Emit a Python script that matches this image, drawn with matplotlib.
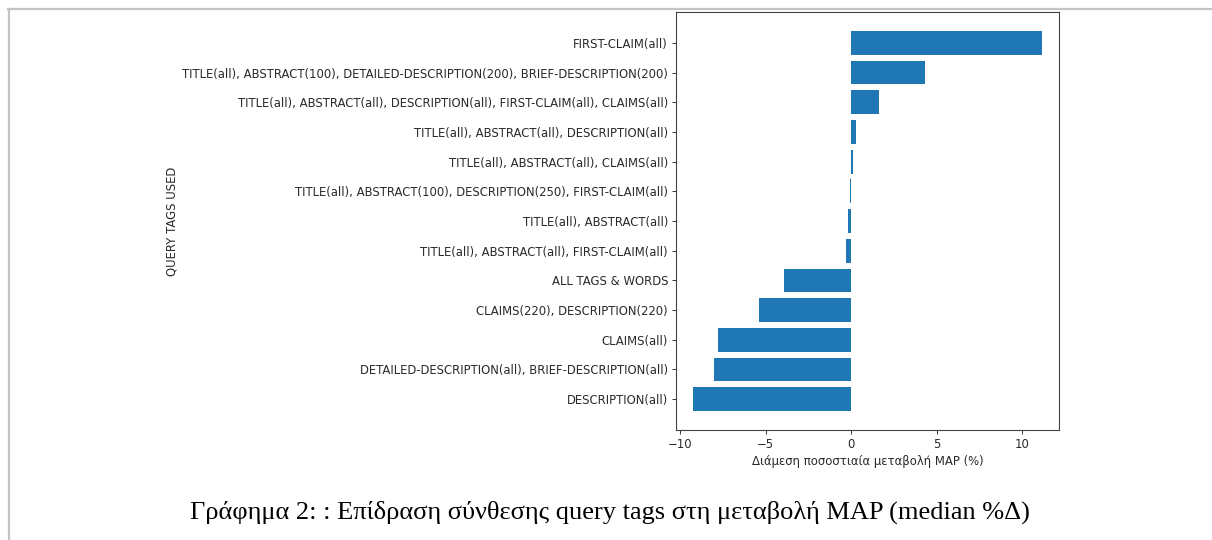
import matplotlib
matplotlib.use("Agg")
import matplotlib.pyplot as plt
from matplotlib.lines import Line2D
from matplotlib.ticker import MultipleLocator

# median % change of MAP per query-tag composition (bottom to top)
tag_sets = [
    "DESCRIPTION(all)",
    "DETAILED-DESCRIPTION(all), BRIEF-DESCRIPTION(all)",
    "CLAIMS(all)",
    "CLAIMS(220), DESCRIPTION(220)",
    "ALL TAGS & WORDS",
    "TITLE(all), ABSTRACT(all), FIRST-CLAIM(all)",
    "TITLE(all), ABSTRACT(all)",
    "TITLE(all), ABSTRACT(100), DESCRIPTION(250), FIRST-CLAIM(all)",
    "TITLE(all), ABSTRACT(all), CLAIMS(all)",
    "TITLE(all), ABSTRACT(all), DESCRIPTION(all)",
    "TITLE(all), ABSTRACT(all), DESCRIPTION(all), FIRST-CLAIM(all), CLAIMS(all)",
    "TITLE(all), ABSTRACT(100), DETAILED-DESCRIPTION(200), BRIEF-DESCRIPTION(200)",
    "FIRST-CLAIM(all)",
]
median_delta = [-9.24, -8.06, -7.81, -5.37, -3.94, -0.31, -0.18, -0.08,
                0.08, 0.31, 1.61, 4.31, 11.15]

caption = "Γράφημα 2: : Επίδραση σύνθεσης query tags στη μεταβολή MAP (median %Δ)"

W, H = 1212, 540
fig = plt.figure(figsize=(W / 100, H / 100), dpi=100)
fig.patch.set_facecolor("white")

# page frame lines
fig.add_artist(Line2D([8 / W, 1], [1 - 8.5 / H, 1 - 8.5 / H], color="#c4c4c4", lw=1.6))
fig.add_artist(Line2D([8.5 / W, 8.5 / W], [0, 1 - 8.5 / H], color="#c4c4c4", lw=1.6))

txt = "#2a2a2a"
ax = fig.add_axes([676 / W, 110 / H, 383 / W, 418 / H])
ax.barh(tag_sets, median_delta, color="#1f77b4")
ax.xaxis.set_major_locator(MultipleLocator(5))
ax.tick_params(axis="both", labelsize=8.4, length=3.2, width=0.7,
               color="#333333", labelcolor=txt, pad=2.5)
for sp in ax.spines.values():
    sp.set_linewidth(0.8)
    sp.set_color("#444444")
ax.set_xlabel("Διάμεση ποσοστιαία μεταβολή MAP (%)", fontsize=8.4, color=txt, labelpad=3)
ax.set_ylabel("QUERY TAGS USED", fontsize=8.4, color=txt)
ax.yaxis.set_label_coords(-1.3, 0.5)

fig.text(610 / W, 1 - 512 / H, caption, ha="center", va="center",
         fontsize=19, family=["Liberation Serif", "DejaVu Serif"])

fig.savefig("out.png", dpi=100)
